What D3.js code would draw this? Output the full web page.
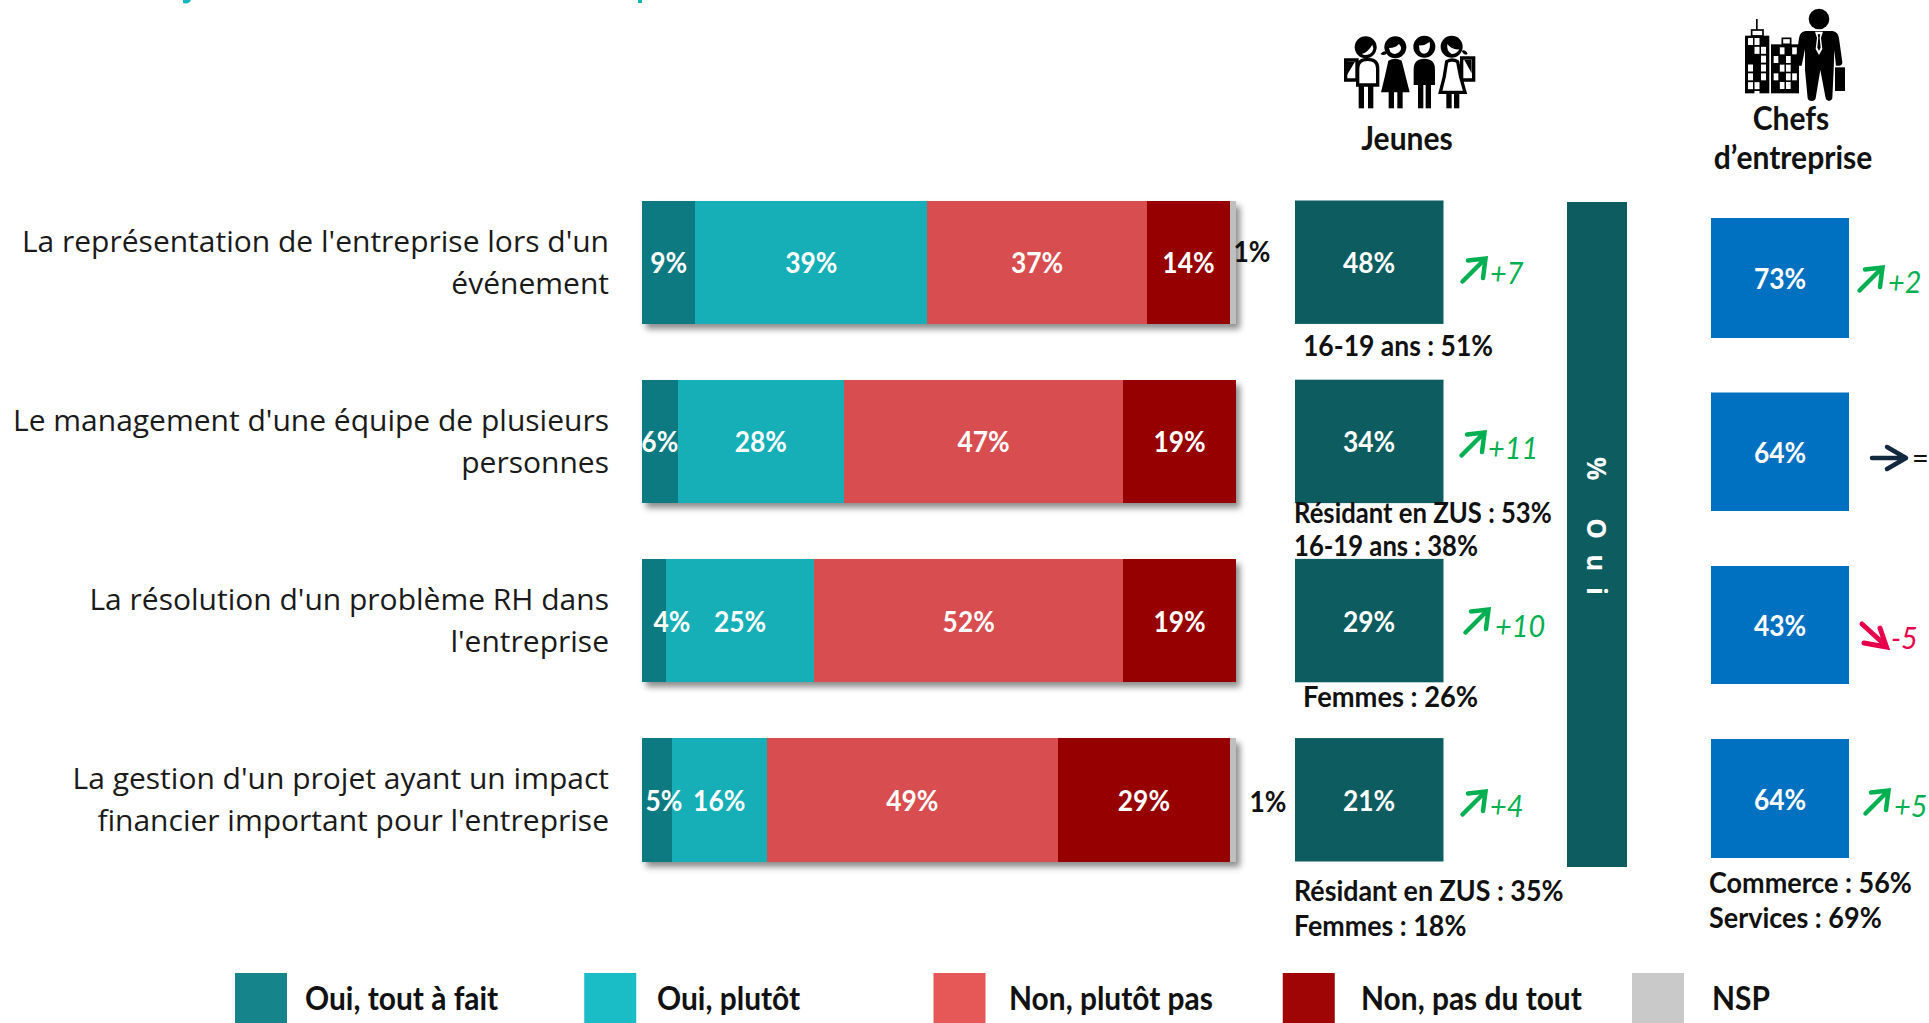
<!DOCTYPE html>
<html><head><meta charset="utf-8">
<style>html,body{margin:0;padding:0;background:#fff;overflow:hidden}svg{display:block}
text{font-family:Lato,sans-serif}</style>
<script src="https://cdnjs.cloudflare.com/ajax/libs/d3/7.9.0/d3.min.js"></script></head>
<body><svg id="c" width="1929" height="1023"></svg>
<script>
const categories=[["La représentation de l'entreprise lors d'un","événement"],["Le management d'une équipe de plusieurs","personnes"],["La résolution d'un problème RH dans","l'entreprise"],["La gestion d'un projet ayant un impact","financier important pour l'entreprise"]];
const seriesNames=["Oui, tout à fait","Oui, plutôt","Non, plutôt pas","Non, pas du tout","NSP"];
const ouiToutAFait=[9,6,4,5];
const ouiPlutot=[39,28,25,16];
const nonPlutotPas=[37,47,52,49];
const nonPasDuTout=[14,19,19,29];
const nsp=[1,0,0,1];
const jeunesOui=[48,34,29,21];
const jeunesTrend=["+7","+11","+10","+4"];
const jeunesNotes=[["16-19 ans : 51%"],["Résidant en ZUS : 53%","16-19 ans : 38%"],["Femmes : 26%"],["Résidant en ZUS : 35%","Femmes : 18%"]];
const chefsOui=[73,64,43,64];
const chefsTrend=["+2","=","-5","+5"];
const chefsNotes=["Commerce : 56%","Services : 69%"];
const barColors=["#107a82","#14afb7","#d84e50","#960000","#bfbfbf"];
const legendColors=["#15858b","#1abcc6","#e65757","#a00505","#c9c9c9"];

const svg=d3.select("#c");
const defs=svg.append("defs");
const f=defs.append("filter").attr("id","sh").attr("x","-5%").attr("y","-10%").attr("width","112%").attr("height","125%");
f.append("feDropShadow").attr("dx",4).attr("dy",5).attr("stdDeviation",3).attr("flood-color","#000").attr("flood-opacity",.45);

// cut-off title fragments at the very top of the frame
svg.append("path").attr("d","M183,0H191C190,3 187,4 183,3Z").attr("fill","#17b5c0");
svg.append("rect").attr("x",638).attr("y",0).attr("width",4).attr("height",3).attr("fill","#17b5c0");

const x=d3.scaleLinear().domain([0,100]).range([642,1236]);
const y=d3.scaleBand().domain(d3.range(4)).range([200.5,861.5]).paddingInner(0.3112).paddingOuter(0);
const rows=d3.range(4).map(i=>({i,vals:[ouiToutAFait[i],ouiPlutot[i],nonPlutotPas[i],nonPasDuTout[i],nsp[i]]}));
const smallShift={4:18,5:7};

// text helper: condenses Lato to the narrower look of the reference
function txt(s,X,Y,t,o={}){
  const e=s.append("text").attr("x",X).attr("y",Y).attr("font-size",o.size||29).attr("font-weight",o.w||700)
    .attr("font-style",o.st||null).attr("fill",o.c||"#111").attr("text-anchor",o.a||"start").text(t);
  const k=o.k===undefined?0.91:o.k;
  if(k!==1){const n=e.node().getComputedTextLength();e.attr("textLength",n*k).attr("lengthAdjust","spacingAndGlyphs");}
  return e;
}

// category labels
const labels=svg.append("g").attr("font-size",30).attr("fill","#1a1a1a").attr("text-anchor","end");
categories.forEach((lines,i)=>lines.forEach((t,j)=>labels.append("text").attr("x",609)
  .attr("y",y(i)+51+j*42.3).style("font-family","'Open Sans',sans-serif").text(t)));

// stacked bars
rows.forEach(r=>{
  const g=svg.append("g");
  const bar=g.append("g").attr("filter","url(#sh)");
  let acc=0;
  r.vals.forEach((v,k)=>{
    if(!v) return;
    bar.append("rect").attr("x",x(acc)).attr("y",y(r.i)).attr("width",x(acc+v)-x(acc)).attr("height",y.bandwidth()).attr("fill",barColors[k]).attr("shape-rendering","crispEdges");
    if(k<4) txt(g,(x(acc)+x(acc+v))/2+(smallShift[v]||0),y(r.i)+y.bandwidth()/2+11,v+"%",{c:"#fff",a:"middle"});
    acc+=v;
  });
});
// NSP labels
const nspPos=[[1252,262],[0,0],[0,0],[1268,812]];
rows.forEach(r=>{ if(r.vals[4]) txt(svg,nspPos[r.i][0],nspPos[r.i][1],r.vals[4]+"%",{a:"middle"}); });

// Jeunes squares
jeunesOui.forEach((v,i)=>{
  svg.append("rect").attr("x",1295).attr("y",y(i)).attr("width",148.5).attr("height",y.bandwidth()).attr("fill","#0d5c60");
  txt(svg,1369,y(i)+y.bandwidth()/2+11,v+"%",{c:"#fff",a:"middle"});
});
const jNoteX=[[1303],[1294,1294],[1303],[1294,1294]];
const jNoteY=[[356],[523,556],[707],[901,936]];
const jNoteK=[.914,.885,.94,.925];
jeunesNotes.forEach((l,i)=>l.forEach((t,j)=>txt(svg,jNoteX[i][j],jNoteY[i][j],t,{k:jNoteK[i]})));

// vertical % Oui band
svg.append("rect").attr("x",1567).attr("y",202).attr("width",60).attr("height",665).attr("fill","#0d5c60");
svg.append("text").attr("transform","translate(1587,457) rotate(90)").attr("font-size",26).attr("font-weight",700).attr("fill","#fff").attr("letter-spacing",15.5).style("font-family","'Open Sans',sans-serif").text("% Oui");

// Chefs squares
const chefTops=[218,392.5,566,739], chefH=[120,118.5,118,119];
chefsOui.forEach((v,i)=>{
  svg.append("rect").attr("x",1711).attr("y",chefTops[i]).attr("width",138).attr("height",chefH[i]).attr("fill","#0070c0");
  txt(svg,1780,chefTops[i]+chefH[i]/2+11,v+"%",{c:"#fff",a:"middle"});
});
chefsNotes.forEach((t,j)=>txt(svg,1709,893+j*35,t,{k:.93}));

// trend arrows
const GREEN="#00b050",RED="#e6004c";
function up(X,Y){svg.append("path").attr("transform",`translate(${X},${Y})`).attr("d","M1.5,24.5L23,3M7,3.5L24.5,1.5L22,21").attr("fill","none").attr("stroke",GREEN).attr("stroke-width",4.5).attr("stroke-linecap","round");}
const jArrow=[[1461,257],[1460,431],[1464,608],[1461,790]];
const jTx=[[1490,284],[1488,459],[1495,637],[1490,817]];
const trendStyle=c=>({size:31,w:400,st:"italic",c,k:.93});
jeunesTrend.forEach((t,i)=>{up(jArrow[i][0],jArrow[i][1]);txt(svg,jTx[i][0],jTx[i][1],t,trendStyle(GREEN));});
up(1858,266);txt(svg,1888,293,chefsTrend[0],trendStyle(GREEN));
up(1864,789);txt(svg,1894,817,chefsTrend[3],trendStyle(GREEN));
svg.append("path").attr("transform","translate(1861,623)").attr("d","M1,1L24,22M3,20L25.5,24L19,5").attr("fill","none").attr("stroke",RED).attr("stroke-width",5).attr("stroke-linecap","round");
txt(svg,1891,649,chefsTrend[2],trendStyle(RED));
svg.append("path").attr("transform","translate(1871,458)").attr("d","M1,0H34M16,-11L35,0L16,11").attr("fill","none").attr("stroke","#12283f").attr("stroke-width",4.5).attr("stroke-linecap","round").attr("stroke-linejoin","round");
txt(svg,1912,468,chefsTrend[1],{size:29,w:400,k:1});

// headers
txt(svg,1407,150,"Jeunes",{a:"middle",size:33,k:.91});
txt(svg,1791,130,"Chefs",{a:"middle",size:33,k:.91});
txt(svg,1793,169,"d’entreprise",{a:"middle",size:33,k:.91});

// legend
const lx=d3.scalePoint().domain(seriesNames).range([235,1632]);
const legendTextX=[305,657,1009,1361,1712];
const leg=svg.append("g");
seriesNames.forEach((n,k)=>{
  leg.append("rect").attr("x",lx(n)).attr("y",973).attr("width",52).attr("height",50).attr("fill",legendColors[k]);
  txt(leg,legendTextX[k],1010,n,{size:32,k:.935});
});

// people icon
const P=svg.append("g").attr("transform","translate(1335,30) scale(0.3333)");
const K="#000",W="#fff";
P.selectAll("rect.leg").data([71,99,161,187,249,272,334,357]).join("rect").attr("x",d=>d).attr("y",150).attr("width",16).attr("height",85).attr("fill",K);
// figure 1
P.append("path").attr("d","M32,90H66V150H32Z").attr("fill",W).attr("stroke",K).attr("stroke-width",10);
P.append("path").attr("d","M36,95L60,95L36,135Z").attr("fill",K);
P.append("path").attr("d","M68,165V115Q68,88 98,88Q128,88 128,115V165Z").attr("fill",W).attr("stroke",K).attr("stroke-width",10);
P.append("circle").attr("cx",92).attr("cy",52).attr("r",33).attr("fill",K);
P.append("path").attr("d","M80,72Q98,68 112,44Q120,62 104,72Q90,78 80,72Z").attr("fill",W);
// figure 2
P.append("path").attr("d","M136,72Q148,58 156,68Q150,80 136,72Z").attr("fill",K);
P.append("path").attr("d","M160,92Q180,80 200,92Q210,130 224,187H138Q152,130 160,92Z").attr("fill",K);
P.append("circle").attr("cx",181).attr("cy",52).attr("r",33).attr("fill",K);
P.append("path").attr("d","M162,54Q182,54 192,42Q202,52 196,62Q182,80 166,66Z").attr("fill",W);
// figure 3
P.append("path").attr("d","M236,165V118Q236,86 268,86Q300,86 300,118V165Z").attr("fill",K);
P.append("circle").attr("cx",268).attr("cy",50).attr("r",33).attr("fill",K);
P.append("path").attr("d","M252,46Q268,48 284,36Q288,56 276,68Q262,76 254,62Z").attr("fill",W);
// figure 4
P.append("path").attr("d","M380,84H416V150H380Z").attr("fill",W).attr("stroke",K).attr("stroke-width",10);
P.append("path").attr("d","M410,90V130L388,90Z").attr("fill",K);
P.append("path").attr("d","M380,62Q392,58 398,72Q388,78 380,62Z").attr("fill",K);
P.append("path").attr("d","M335,95Q352,85 368,95Q375,140 390,187H316Q330,140 335,95Z").attr("fill",W).attr("stroke",K).attr("stroke-width",10);
P.append("circle").attr("cx",350).attr("cy",50).attr("r",33).attr("fill",K);
P.append("path").attr("d","M337,42Q350,60 373,58Q366,72 350,72Q334,64 337,42Z").attr("fill",W);

// business icon
const B=svg.append("g").attr("transform","translate(1735,5) scale(0.3333)");
B.append("rect").attr("x",63).attr("y",42).attr("width",5).attr("height",32).attr("fill",K);
B.append("rect").attr("x",50).attr("y",75).attr("width",34).attr("height",18).attr("fill",W).attr("stroke",K).attr("stroke-width",5);
B.append("rect").attr("x",30).attr("y",92).attr("width",73).attr("height",173).attr("fill",K);
B.append("rect").attr("x",142).attr("y",100).attr("width",25).attr("height",18).attr("fill",W).attr("stroke",K).attr("stroke-width",5);
B.append("rect").attr("x",108).attr("y",118).attr("width",84).attr("height",147).attr("fill",K);
const win1=["110","011","001","101","101","110","010"],win2=["0101","1010","0110","1011","0110"];
win1.forEach((r,a)=>[...r].forEach((c,b)=>{if(c=="1")B.append("rect").attr("x",39+b*19.5).attr("y",99+a*26.5).attr("width",15).attr("height",21).attr("fill",W);}));
win2.forEach((r,a)=>[...r].forEach((c,b)=>{if(c=="1")B.append("rect").attr("x",116+b*18.5).attr("y",127+a*26).attr("width",14).attr("height",21).attr("fill",W);}));
B.append("path").attr("d","M300,187H330V258H300Z").attr("fill",K);
B.append("path").attr("d","M212,78L292,78Q310,80 312,100L322,172Q322,182 312,182L303,182L298,135L296,195L292,280Q290,288 282,288Q274,288 272,280L256,195L242,280Q240,288 230,288Q220,288 218,280L210,195V132L200,182H190Q180,180 182,170L192,100Q194,80 212,78Z").attr("fill",K);
B.append("path").attr("d","M240,80H264L258,98L262,132L252,150L242,132L246,98Z").attr("fill",W);
B.append("path").attr("d","M248,88H256L254,98L257,128L252,138L247,128L250,98Z").attr("fill",K);
B.append("circle").attr("cx",252).attr("cy",42).attr("r",31).attr("fill",K);
</script></body></html>
